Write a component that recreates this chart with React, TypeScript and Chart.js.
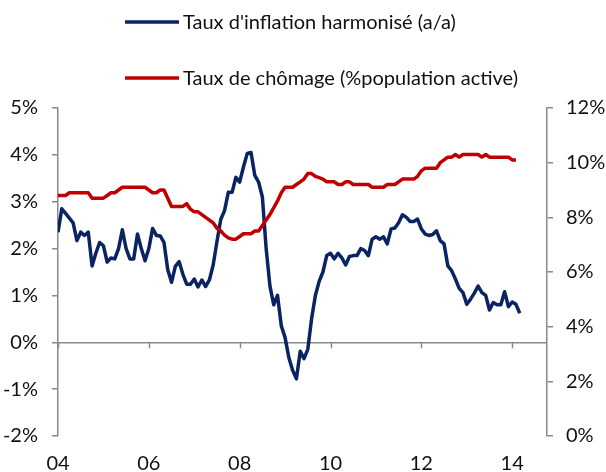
import { useEffect, useRef } from 'react';
import { Chart, registerables } from 'chart.js';

Chart.register(...registerables);

// Monthly data, April 2004 -> June 2014 (index 0 = Apr 2004)
const inflation = [
  // 2004 (Apr-Dec)
  2.35, 2.85, 2.75, 2.65, 2.55, 2.17, 2.35, 2.28, 2.35,
  // 2005
  1.63, 1.9, 2.13, 2.06, 1.71, 1.8, 1.78, 2.0, 2.4, 2.0, 1.78, 1.78,
  // 2006
  2.31, 2.0, 1.74, 2.0, 2.43, 2.28, 2.27, 2.13, 1.55, 1.28, 1.62, 1.72,
  // 2007
  1.45, 1.24, 1.24, 1.35, 1.18, 1.33, 1.19, 1.33, 1.65, 2.15, 2.62, 2.81,
  // 2008
  3.2, 3.2, 3.52, 3.42, 3.74, 4.03, 4.05, 3.56, 3.42, 3.1, 2.0, 1.2,
  // 2009
  0.8, 1.0, 0.35, 0.1, -0.33, -0.6, -0.78, -0.19, -0.35, -0.15, 0.5, 1.0,
  // 2010
  1.3, 1.5, 1.85, 1.9, 1.78, 1.9, 1.8, 1.65, 1.83, 1.85, 1.85, 2.0,
  // 2011
  1.96, 1.85, 2.2, 2.25, 2.2, 2.25, 2.1, 2.42, 2.44, 2.55, 2.72, 2.67,
  // 2012
  2.58, 2.58, 2.63, 2.42, 2.31, 2.28, 2.3, 2.38, 2.17, 2.1, 1.63, 1.53,
  // 2013
  1.35, 1.15, 1.06, 0.81, 0.92, 1.05, 1.2, 1.06, 1.0, 0.69, 0.85, 0.8,
  // 2014 (Jan-Jun)
  0.8, 1.08, 0.76, 0.86, 0.81, 0.62,
];

const unemployment = [
  // 2004 (Apr-Dec)
  8.8, 8.8, 8.8, 8.9, 8.9, 8.9, 8.9, 8.9, 8.9,
  // 2005
  8.7, 8.7, 8.7, 8.7, 8.8, 8.9, 8.9, 9.0, 9.1, 9.1, 9.1, 9.1,
  // 2006
  9.1, 9.1, 9.1, 9.0, 8.9, 8.9, 9.0, 9.0, 8.7, 8.4, 8.4, 8.4,
  // 2007
  8.4, 8.5, 8.3, 8.2, 8.2, 8.1, 8.0, 7.9, 7.8, 7.6, 7.5, 7.35,
  // 2008
  7.25, 7.2, 7.2, 7.3, 7.4, 7.4, 7.4, 7.5, 7.5, 7.7, 7.9, 8.1,
  // 2009
  8.35, 8.6, 8.9, 9.1, 9.1, 9.1, 9.2, 9.3, 9.4, 9.6, 9.6, 9.5,
  // 2010
  9.45, 9.4, 9.3, 9.3, 9.3, 9.2, 9.2, 9.3, 9.3, 9.2, 9.2, 9.2,
  // 2011
  9.2, 9.2, 9.1, 9.1, 9.1, 9.1, 9.2, 9.2, 9.2, 9.3, 9.4, 9.4,
  // 2012
  9.4, 9.4, 9.5, 9.7, 9.8, 9.8, 9.8, 9.8, 10.0, 10.1, 10.2, 10.2,
  // 2013
  10.3, 10.2, 10.3, 10.3, 10.3, 10.3, 10.3, 10.2, 10.3, 10.2, 10.2, 10.2,
  // 2014 (Jan-May)
  10.2, 10.2, 10.2, 10.1, 10.1,
];

const xTickMonths = [0, 24, 48, 72, 96, 120];
const xTickLabels = ['04', '06', '08', '10', '12', '14'];
const seriesNames = ["Taux d'inflation harmonisé (a/a)", 'Taux de chômage (%population active)'];

const BLUE = '#0a2362';
const RED = '#c00000';
const AXIS = '#8a8a8a';
const TEXT = '#111111';
const FONT_FAMILY = 'Lato, "Noto Sans", sans-serif';
const FONT_SIZE = 20;

const customDraw = {
  id: 'customDraw',
  beforeDatasetsDraw(chart: any) {
    const { ctx } = chart;
    const xs = chart.scales.x;
    const ys = chart.scales.y;
    const y0 = ys.getPixelForValue(0);
    ctx.save();
    ctx.strokeStyle = AXIS;
    ctx.lineWidth = 1.5;
    xTickMonths.forEach((m) => {
      const px = Math.round(xs.getPixelForValue(m)) + 0.5;
      ctx.beginPath();
      ctx.moveTo(px, y0);
      ctx.lineTo(px, y0 + 6);
      ctx.stroke();
    });
    ctx.restore();
  },
  afterDraw(chart: any) {
    const { ctx } = chart;
    const rows = [
      { y: 22, color: BLUE, text: seriesNames[0] },
      { y: 78, color: RED, text: seriesNames[1] },
    ];
    ctx.save();
    ctx.font = `${FONT_SIZE}px ${FONT_FAMILY}`;
    ctx.textBaseline = 'middle';
    ctx.textAlign = 'left';
    rows.forEach((r) => {
      ctx.strokeStyle = r.color;
      ctx.lineWidth = 3.5;
      ctx.beginPath();
      ctx.moveTo(125, r.y);
      ctx.lineTo(179, r.y);
      ctx.stroke();
      ctx.fillStyle = TEXT;
      ctx.fillText(r.text, 183, r.y + 1);
    });
    ctx.restore();
  },
};

export default function App() {
  const canvasRef = useRef<HTMLCanvasElement | null>(null);

  useEffect(() => {
    if (!canvasRef.current) return;
    const font = { family: FONT_FAMILY, size: FONT_SIZE };
    const chart = new Chart(canvasRef.current, {
      type: 'line',
      data: {
        datasets: [
          {
            label: seriesNames[1],
            data: unemployment.map((v, i) => ({ x: i, y: v })),
            borderColor: RED,
            backgroundColor: RED,
            borderWidth: 3.5,
            pointRadius: 0,
            tension: 0,
            borderJoinStyle: 'round',
            yAxisID: 'y1',
            order: 0,
          },
          {
            label: seriesNames[0],
            data: inflation.map((v, i) => ({ x: i, y: v })),
            borderColor: BLUE,
            backgroundColor: BLUE,
            borderWidth: 3.5,
            pointRadius: 0,
            tension: 0,
            borderJoinStyle: 'round',
            yAxisID: 'y',
            order: 1,
          },
        ],
      },
      options: {
        animation: false,
        responsive: true,
        maintainAspectRatio: false,
        layout: { padding: { top: 108, left: 0, right: 0, bottom: 0 } },
        plugins: {
          legend: { display: false },
          tooltip: { enabled: false },
        },
        scales: {
          x: {
            type: 'linear',
            position: 'bottom',
            min: 0,
            max: 129.2,
            grid: { display: false, drawTicks: false },
            border: { display: false },
            afterBuildTicks: (s: any) => {
              s.ticks = xTickMonths.map((v) => ({ value: v }));
            },
            afterFit: (s: any) => {
              s.height = 36;
            },
            ticks: {
              autoSkip: false,
              maxRotation: 0,
              padding: 16,
              color: TEXT,
              font,
              callback: (v: any) => {
                const k = xTickMonths.indexOf(Number(v));
                return k >= 0 ? xTickLabels[k] : '';
              },
            },
          },
          y: {
            position: 'left',
            min: -2,
            max: 5,
            afterFit: (s: any) => {
              s.width = 58;
            },
            ticks: {
              stepSize: 1,
              padding: 14,
              color: TEXT,
              font,
              callback: (v: any) => `${v}%`,
            },
            grid: {
              color: (c: any) => (c.tick && c.tick.value === 0 ? AXIS : 'rgba(0,0,0,0)'),
              tickColor: AXIS,
              tickLength: 6,
              lineWidth: 1.5,
            },
            border: { color: AXIS, width: 1.5 },
          },
          y1: {
            position: 'right',
            min: 0,
            max: 12,
            afterFit: (s: any) => {
              s.width = 59;
            },
            ticks: {
              stepSize: 2,
              padding: 13,
              color: TEXT,
              font,
              callback: (v: any) => `${v}%`,
            },
            grid: {
              drawOnChartArea: false,
              color: AXIS,
              tickColor: AXIS,
              tickLength: 6,
              lineWidth: 1.5,
            },
            border: { color: AXIS, width: 1.5 },
          },
        },
      },
      plugins: [customDraw],
    } as any);
    return () => chart.destroy();
  }, []);

  return (
    <div style={{ position: 'fixed', left: 0, top: 0, width: 606, height: 472 }}>
      <canvas ref={canvasRef} />
    </div>
  );
}
